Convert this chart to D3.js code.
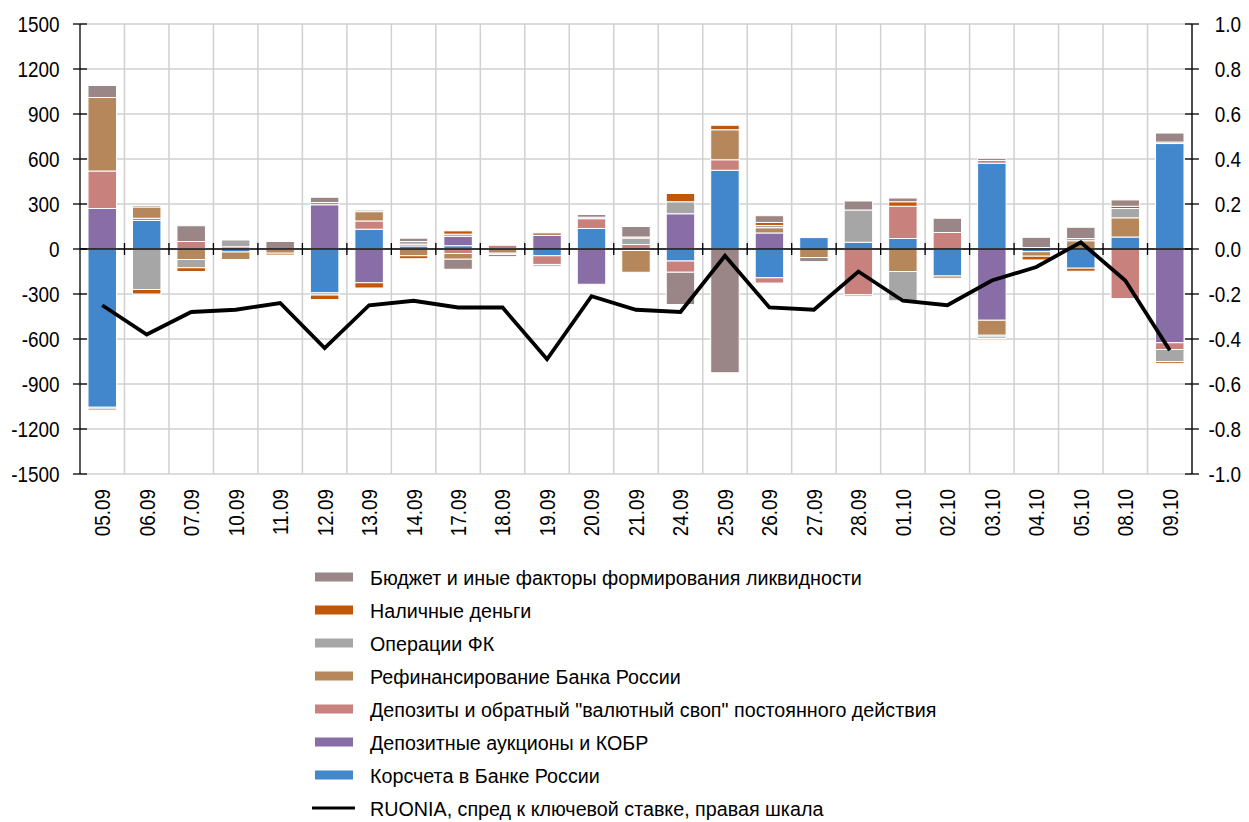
<!DOCTYPE html>
<html><head><meta charset="utf-8">
<script src="https://cdn.jsdelivr.net/npm/d3@7/dist/d3.min.js"></script>
<style>
body{margin:0;background:#fff;}
text{font-family:"Liberation Sans",Arial,sans-serif;fill:#000;}
</style></head>
<body><svg id="c" width="1249" height="822"></svg>
<script>
const categories = ["05.09","06.09","07.09","10.09","11.09","12.09","13.09","14.09","17.09","18.09","19.09","20.09","21.09","24.09","25.09","26.09","27.09","28.09","01.10","02.10","03.10","04.10","05.10","08.10","09.10"];
const seriesNames = ["Корсчета в Банке России","Депозитные аукционы и КОБР","Депозиты и обратный \"валютный своп\" постоянного действия","Рефинансирование Банка России","Операции ФК","Наличные деньги","Бюджет и иные факторы формирования ликвидности"];
const korscheta = [-1055,190,0,-20,0,-292,132,20,22,0,-45,137,-10,-80,525,-192,76,45,70,-180,572,-18,-128,80,703];
const depAuctions = [270,0,0,0,0,295,-225,0,62,0,90,-235,0,235,0,107,0,0,0,0,-475,0,0,0,-625];
const deposits = [250,15,50,15,0,15,55,12,-30,25,-58,65,30,-75,70,-35,0,-305,215,110,18,0,0,-330,-45];
const refinancing = [490,75,-70,-50,-28,0,62,-45,-38,-28,18,0,-145,0,200,35,-57,-10,-150,-15,-100,-30,55,128,10];
const fxOps = [-12,-270,-55,45,0,-15,0,18,15,-8,-12,10,42,80,0,15,0,215,-195,0,-12,10,15,62,-80];
const cash = [-10,-30,-25,0,-12,-30,-35,-20,22,0,0,0,8,55,30,20,0,0,30,0,-10,-25,-20,15,-12];
const budget = [80,10,105,0,50,35,10,22,-67,-15,0,18,70,-215,-825,45,-27,60,25,95,15,68,75,42,60];
const ruonia = [-0.25,-0.38,-0.28,-0.27,-0.24,-0.44,-0.25,-0.23,-0.26,-0.26,-0.49,-0.21,-0.27,-0.28,-0.03,-0.26,-0.27,-0.10,-0.23,-0.25,-0.14,-0.08,0.03,-0.14,-0.45];
const leftTicks = [1500,1200,900,600,300,0,-300,-600,-900,-1200,-1500];
const rightTicks = [1.0,0.8,0.6,0.4,0.2,0.0,-0.2,-0.4,-0.6,-0.8,-1.0];
const lineName = "RUONIA, спред к ключевой ставке, правая шкала";
const colors = ["#4286cc","#896da7","#c8817d","#b5875a","#a6a6a6","#c0580c","#9a8686"];

const svg = d3.select("#c");
const L = 80, R = 1192, T = 24, B = 474;
const x = d3.scaleBand().domain(categories).range([L,R]).paddingInner(0.36).paddingOuter(0.18);
const step = (R-L)/categories.length;
const y = d3.scaleLinear().domain([-1500,1500]).range([B,T]);
const y2 = d3.scaleLinear().domain([-1,1]).range([B,T]);
const fmt = v => (v<0?"-":"") + d3.format(".1f")(Math.abs(v));
const SX = 0.86;

// grid
const g = svg.append("g");
g.selectAll("line.h").data(leftTicks).join("line")
  .attr("x1",L).attr("x2",R).attr("y1",d=>y(d)).attr("y2",d=>y(d))
  .attr("stroke","#d0d0d0").attr("stroke-width",1.5);
g.selectAll("line.v").data(categories).join("line")
  .attr("x1",(d,i)=>L+step*(i+1)).attr("x2",(d,i)=>L+step*(i+1)).attr("y1",T).attr("y2",B)
  .attr("stroke","#d0d0d0").attr("stroke-width",1.5);

// stacked bars
const rows = categories.map((c,i)=>({cat:c, s0:korscheta[i], s1:depAuctions[i], s2:deposits[i], s3:refinancing[i], s4:fxOps[i], s5:cash[i], s6:budget[i]}));
const keys = ["s0","s1","s2","s3","s4","s5","s6"];
const stacked = d3.stack().keys(keys).offset(d3.stackOffsetDiverging)(rows);
svg.append("g").selectAll("g").data(stacked).join("g").attr("fill",(d,i)=>colors[i])
  .selectAll("rect").data(d=>d).join("rect")
  .attr("x",d=>x(d.data.cat)).attr("width",x.bandwidth())
  .attr("y",d=>y(Math.max(d[0],d[1]))).attr("height",d=>Math.abs(y(d[0])-y(d[1])))
  .attr("stroke","#fff").attr("stroke-width",1);

// zero line with ticks
svg.append("line").attr("x1",L).attr("x2",R).attr("y1",y(0)).attr("y2",y(0)).attr("stroke","#000").attr("stroke-width",1.3);
svg.append("g").selectAll("line").data(categories.slice(1)).join("line")
  .attr("x1",(d,i)=>L+step*(i+1)).attr("x2",(d,i)=>L+step*(i+1))
  .attr("y1",y(0)-6).attr("y2",y(0)+6).attr("stroke","#000").attr("stroke-width",1.3);

// axes
const ax = svg.append("g");
ax.append("line").attr("x1",L).attr("x2",L).attr("y1",T).attr("y2",B).attr("stroke","#000").attr("stroke-width",1.3);
ax.selectAll("line.t").data(leftTicks).join("line").attr("x1",L-7).attr("x2",L+7).attr("y1",d=>y(d)).attr("y2",d=>y(d)).attr("stroke","#000").attr("stroke-width",1.3);
ax.selectAll("text").data(leftTicks).join("text")
  .attr("transform",d=>`translate(59.5,${y(d)}) scale(${SX},1)`).attr("dy","0.36em")
  .attr("text-anchor","end").attr("font-size",22).text(d=>String(d));
const ax2 = svg.append("g");
ax2.append("line").attr("x1",R).attr("x2",R).attr("y1",T).attr("y2",B).attr("stroke","#000").attr("stroke-width",1.3);
ax2.selectAll("line.t").data(rightTicks).join("line").attr("x1",R-7).attr("x2",R+7).attr("y1",d=>y2(d)).attr("y2",d=>y2(d)).attr("stroke","#000").attr("stroke-width",1.3);
ax2.selectAll("text").data(rightTicks).join("text")
  .attr("transform",d=>`translate(1241,${y2(d)}) scale(${SX},1)`).attr("dy","0.36em")
  .attr("text-anchor","end").attr("font-size",22).text(d=>fmt(d));

// x labels
svg.append("g").selectAll("text").data(categories).join("text")
  .attr("transform",d=>`translate(${x(d)+x.bandwidth()/2},489) rotate(-90) scale(${SX},1)`)
  .attr("text-anchor","end").attr("dy","0.36em").attr("font-size",22).text(d=>d);

// line
svg.append("path").datum(ruonia)
  .attr("d",d3.line().x((d,i)=>x(categories[i])+x.bandwidth()/2).y(d=>y2(d)))
  .attr("fill","none").attr("stroke","#000").attr("stroke-width",3.8).attr("stroke-linejoin","miter");

// legend
const legendItems = seriesNames.map((n,i)=>({name:n,color:colors[i]})).reverse();
const lg = svg.append("g");
const texts = [];
legendItems.forEach((it,i)=>{
  const cy = 577 + i*33;
  lg.append("rect").attr("x",315).attr("y",cy-4.5).attr("width",38).attr("height",9).attr("fill",it.color);
  texts.push(lg.append("text").attr("y",cy).attr("dy","0.36em").attr("font-size",21).text(it.name));
});
const ly = 577 + 7*33;
lg.append("line").attr("x1",312).attr("x2",355).attr("y1",ly).attr("y2",ly).attr("stroke","#000").attr("stroke-width",3);
texts.push(lg.append("text").attr("y",ly).attr("dy","0.36em").attr("font-size",21).text(lineName));
const w0 = texts[0].node().getComputedTextLength();
const ls = 492 / w0;
texts.forEach(t=>t.attr("transform",`translate(370,0) scale(${ls},1)`).attr("x",0));
</script></body></html>
